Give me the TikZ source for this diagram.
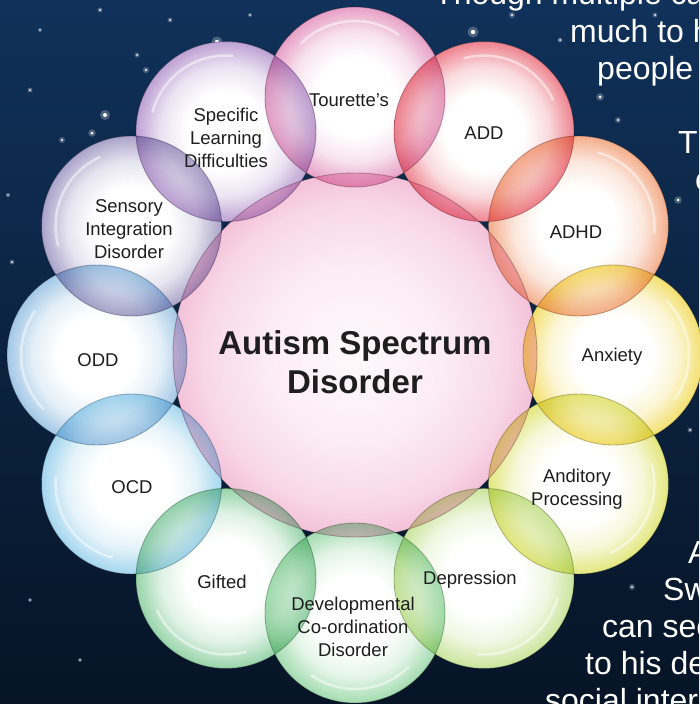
\documentclass[tikz,border=0pt]{standalone}
\usepackage{fontspec}
\setmainfont{Liberation Sans}
\usetikzlibrary{positioning}

\definecolor{navyT}{HTML}{10315A}
\definecolor{navyB}{HTML}{061426}
\definecolor{ink}{HTML}{1E1E1E}
\definecolor{asdC}{HTML}{F2B6D2}
\definecolor{tourC}{HTML}{E7A0C6}
\definecolor{addC}{HTML}{EE8490}
\definecolor{adhdC}{HTML}{F4AE8C}
\definecolor{anxC}{HTML}{F4E070}
\definecolor{audC}{HTML}{E3E77E}
\definecolor{depC}{HTML}{CBE59C}
\definecolor{devC}{HTML}{A3DCB0}
\definecolor{giftC}{HTML}{98D4AA}
\definecolor{ocdC}{HTML}{A4D6EE}
\definecolor{oddC}{HTML}{A3C8E6}
\definecolor{sensC}{HTML}{ABA4CA}
\definecolor{specC}{HTML}{BEA2D4}
\colorlet{bubcol}{asdC}

\pgfdeclareradialshading[bubcol]{bubble}{\pgfpointorigin}{%
  color(0bp)=(white); color(11bp)=(white); color(18bp)=(bubcol!30!white);
  color(23bp)=(bubcol!80!white); color(25bp)=(bubcol); color(50bp)=(bubcol)}
\pgfdeclareradialshading{core}{\pgfpointorigin}{%
  color(0bp)=(asdC!8!white); color(12bp)=(asdC!25!white); color(21bp)=(asdC!55!white);
  color(25bp)=(asdC!85!white); color(50bp)=(asdC)}

\tikzset{
  bub/.style={circle, minimum size=180pt, inner sep=0pt, shading=bubble,
    draw=bubcol!55!black, draw opacity=.45, line width=.9pt},
  lbl/.style={font=\fontsize{18.5}{23}\selectfont, text=ink, align=center},
  quote/.style={font=\fontsize{32}{37}\selectfont, text=white, anchor=base west, inner sep=0pt},
  shine/.style={white, line width=2.5pt, opacity=.5, line cap=round}
}

\begin{document}
\begin{tikzpicture}[x=1pt,y=-1pt]
\useasboundingbox (0,0) rectangle (699,704);
\fill[top color=navyT, bottom color=navyB] (0,0) rectangle (699,704);

\foreach \x/\y/\r in {217/42/2.2, 105/115/2, 92/133/1.5, 100/10/1, 137/55/1, 146/70/1.2,
    473/32/2.2, 512/15/1.2, 600/97/1.5, 618/120/1.2, 678/200/1.5, 632/587/1.2, 30/90/1,
    60/180/.8, 12/262/1, 170/20/1, 40/30/.8, 250/15/.8, 690/430/1, 660/470/.8, 30/600/.8,
    80/660/.8, 560/40/1, 655/15/1, 62/140/1.2, 8/195/.9}
  {\fill[white, opacity=.25] (\x,\y) circle[radius=2.5*\r];
   \fill[white] (\x,\y) circle[radius=\r];}

\node[quote] (q1) at (434,5) {Though multiple ca};
\node[quote] (q2) at (570,42) {much to h};
\node[quote] (q3) at (597,79) {people};
\node[quote] (q4) at (678,153) {Th};
\node[quote] (q5) at (695,190) {c};
\node[quote] (q6) at (688,563) {A};
\node[quote] (q7) at (663,600) {Sw};
\node[quote] (q8) at (602,637) {can sec};
\node[quote] (q9) at (585,674) {to his de};
\node[quote] (q10) at (545,711) {social inter};

\coordinate (mid) at (355,355);
\fill[white] (mid) circle[radius=182];
\foreach \a in {0,30,...,330}
  \fill[white] ([shift={(\a:258)}]mid) circle[radius=90];

\begin{scope}[blend mode=multiply]
  \node[bub, shading=core, minimum size=364pt] (asd) at (mid) {};
  \foreach \n/\a/\c in {tour/270/tourC, add/300/addC, adhd/330/adhdC, anx/0/anxC,
      aud/30/audC, dep/60/depC, dev/90/devC, gift/120/giftC, ocd/150/ocdC,
      odd/180/oddC, sens/210/sensC, spec/240/specC}
    {\colorlet{bubcol}{\c}
     \node[bub] (\n) at ([shift={(\a:258)}]mid) {};}
\end{scope}

\foreach \n/\a in {tour/270, add/300, adhd/330, anx/0, aud/30, dep/60, dev/90,
    gift/120, ocd/150, odd/180, sens/210, spec/240}
  \draw[shine] (\n.center) ++(\a-45:76) arc[start angle=\a-45, end angle=\a+35, radius=76];

\node[font=\bfseries\fontsize{33}{39}\selectfont, text=ink, align=center] (asd-t) at (355,362)
  {Autism Spectrum\\Disorder};
\node[lbl] (tour-t) at (349,100) {Tourette's};
\node[lbl] (add-t) at (484,133) {ADD};
\node[lbl] (adhd-t) at (576,232) {ADHD};
\node[lbl] (anx-t) at (612,357) {Anxiety};
\node[lbl] (aud-t) at (577,489) {Anditory\\Processing};
\node[lbl] (dep-t) at (470,580) {Depression};
\node[lbl] (dev-t) at (353,627) {Developmental\\Co-ordination\\Disorder};
\node[lbl] (gift-t) at (222,582) {Gifted};
\node[lbl] (ocd-t) at (132,487) {OCD};
\node[lbl] (odd-t) at (98,360) {ODD};
\node[lbl] (sens-t) at (129,229) {Sensory\\Integration\\Disorder};
\node[lbl] (spec-t) at (226,138) {Specific\\Learning\\Difficulties};
\end{tikzpicture}
\end{document}
